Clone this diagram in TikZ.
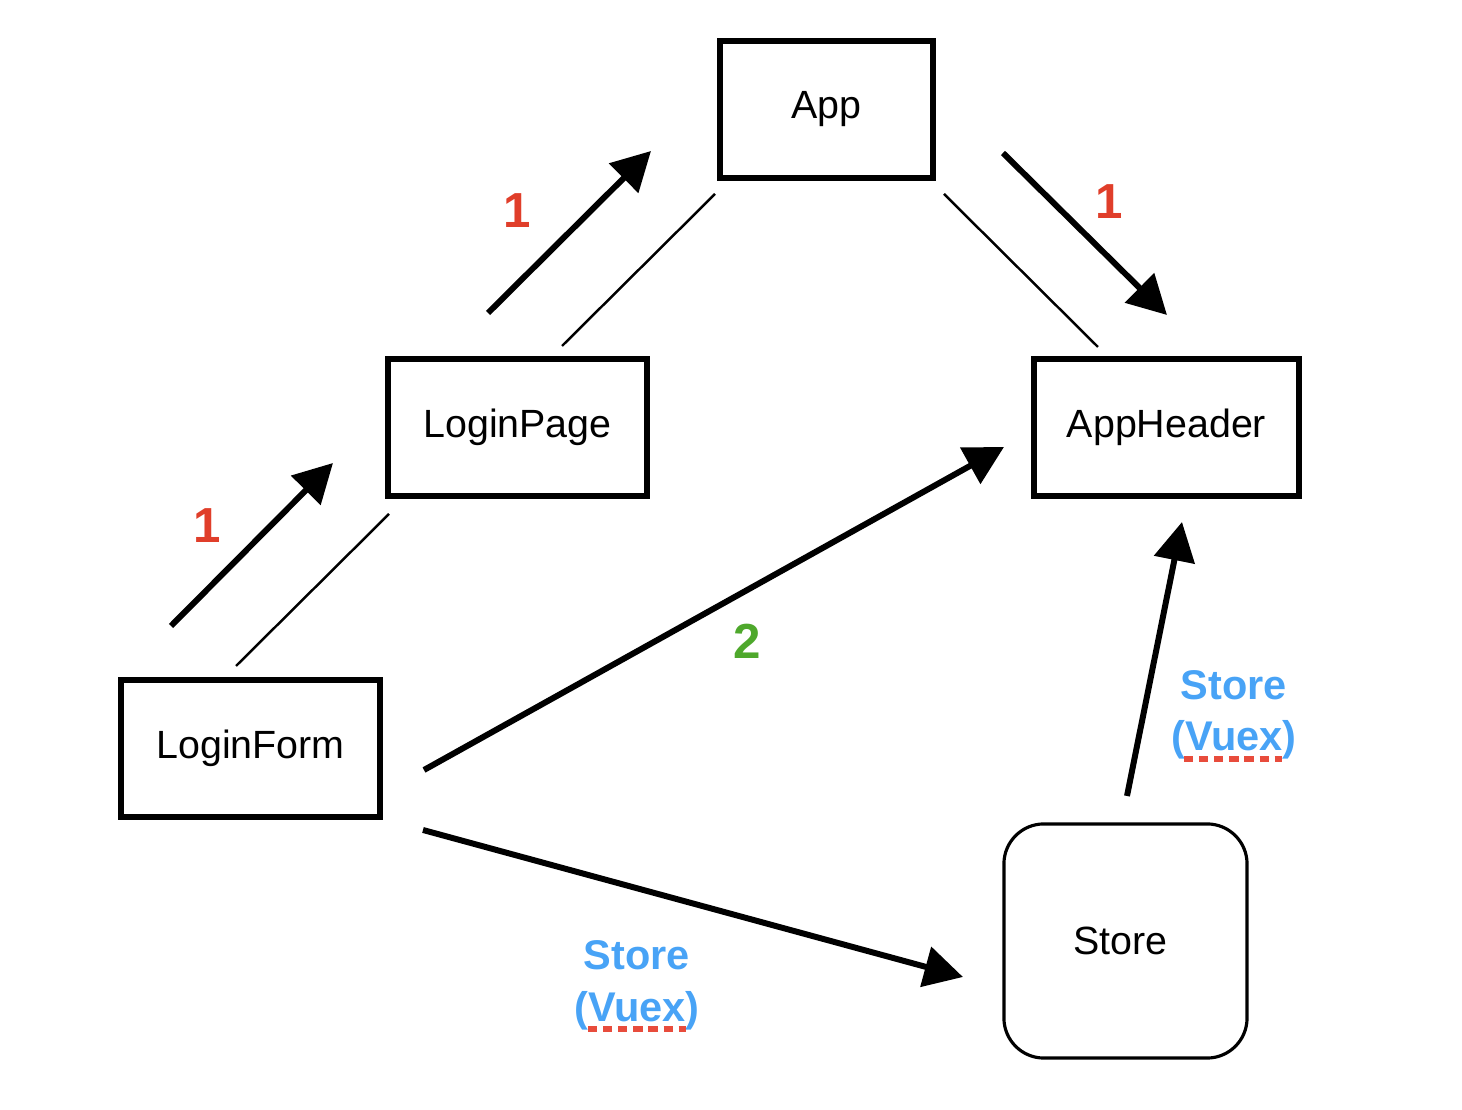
\documentclass[tikz,border=0pt]{standalone}
\usepackage{fontspec}
\setmainfont{Liberation Sans}
\usetikzlibrary{arrows.meta}
\definecolor{numred}{RGB}{224,62,42}
\definecolor{numgreen}{RGB}{78,168,44}
\definecolor{vuexblue}{RGB}{72,163,246}
\definecolor{dotred}{RGB}{232,76,60}
\tikzset{
  box/.style={draw, line width=1.7pt, minimum height=1.37cm, inner sep=0pt, font=\fontsize{11.2}{13}\selectfont},
  storebox/.style={draw, line width=0.9pt, rounded corners=0.4cm, minimum width=2.43cm, minimum height=2.34cm, inner sep=0pt, font=\fontsize{11.2}{13}\selectfont},
  thickarrow/.style={line width=1.7pt, -{Triangle[length=11pt,width=11.5pt]}},
  thinline/.style={line width=0.7pt},
  numlabel/.style={font=\fontsize{14}{16}\selectfont\bfseries, inner sep=0pt},
  vuexlabel/.style={font=\fontsize{11.8}{14}\selectfont\bfseries, text=vuexblue, inner sep=0pt},
  squiggle/.style={draw=dotred, line width=1.6pt, dash pattern=on 2.6pt off 1.7pt},
}
\begin{document}
\begin{tikzpicture}[x=0.01cm, y=-0.01cm]
\useasboundingbox (0,0) rectangle (1462,1110);
% boxes
\node[box, minimum width=2.13cm] (app) at (826.5,109.5) {\raisebox{-0.8pt}{App}};
\node[box, minimum width=2.59cm] (loginpage) at (517.5,427.5) {\raisebox{-0.6pt}{LoginPage}};
\node[box, minimum width=2.65cm] (appheader) at (1166.5,427.5) {\raisebox{-0.6pt}{AppHeader}};
\node[box, minimum width=2.59cm] (loginform) at (250.5,748.5) {\raisebox{-0.6pt}{LoginForm}};
\node[storebox] (store) at (1125.5,941) {\hspace*{-2.8pt}\raisebox{-1.4pt}{Store}};
% endpoints of the offset connectors
\coordinate (lf1s) at (171,626);  \coordinate (lf1e) at (333,463);
\coordinate (lf2s) at (236,666);  \coordinate (lf2e) at (389,514);
\coordinate (lp1s) at (488,313);  \coordinate (lp1e) at (651,151);
\coordinate (lp2s) at (562,346);  \coordinate (lp2e) at (715,194);
\coordinate (ap1s) at (1003,153); \coordinate (ap1e) at (1167,315);
\coordinate (ap2s) at (944,194);  \coordinate (ap2e) at (1098,347);
\coordinate (fhs) at (424,770);   \coordinate (fhe) at (1004,447);
\coordinate (fss) at (423,830);   \coordinate (fse) at (963,977);
\coordinate (shs) at (1127,796);  \coordinate (she) at (1182,522);
% connectors
\draw[thickarrow] (lf1s) -- (lf1e);
\draw[thinline] (lf2s) -- (lf2e);
\draw[thickarrow] (lp1s) -- (lp1e);
\draw[thinline] (lp2s) -- (lp2e);
\draw[thickarrow] (ap1s) -- (ap1e);
\draw[thinline] (ap2s) -- (ap2e);
\draw[thickarrow] (fhs) -- (fhe);
\draw[thickarrow] (fss) -- (fse);
\draw[thickarrow] (shs) -- (she);
% labels
\node[numlabel, text=numred] (n1) at (517,211) {1};
\node[numlabel, text=numred] (n2) at (1109,202) {1};
\node[numlabel, text=numred] (n3) at (207,526) {1};
\node[numlabel, text=numgreen] (n4) at (747,641) {2};
\node[vuexlabel] (s1) at (637,955) {Store};
\node[vuexlabel] (v1) at (637,1011) {(Vuex)};
\node[vuexlabel] (s2) at (1234,685) {Store};
\node[vuexlabel] (v2) at (1234,740) {(Vuex)};
\draw[squiggle] (588,1029) -- (686,1029);
\draw[squiggle] (1184,759) -- (1282,759);
\end{tikzpicture}
\end{document}
